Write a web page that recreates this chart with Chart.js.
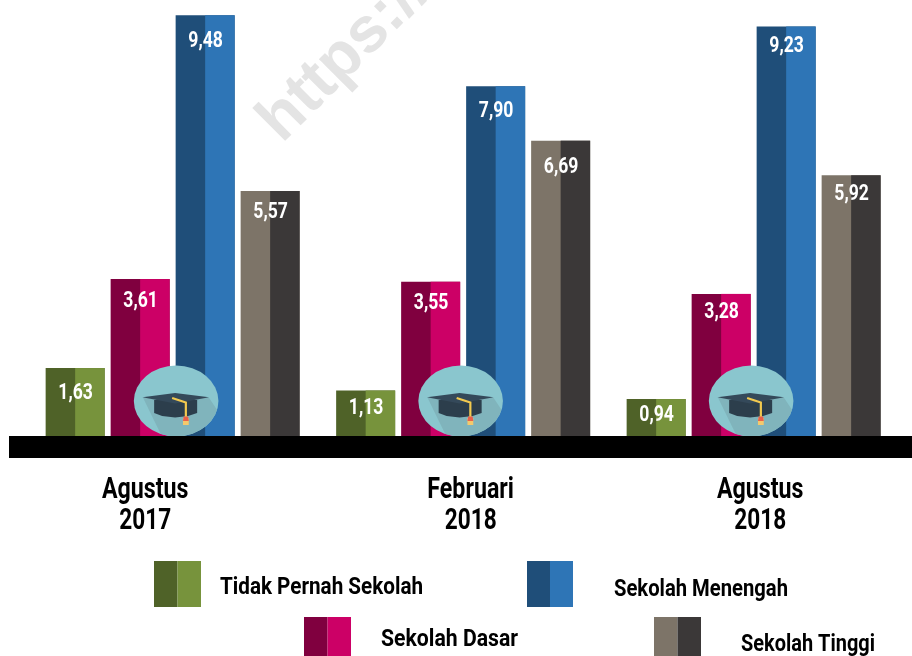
<!DOCTYPE html>
<html><head><meta charset="utf-8">
<style>html,body{margin:0;padding:0;background:#fff}#w{position:relative;width:912px;height:656px}canvas{display:block}</style>
<script src="https://cdn.jsdelivr.net/npm/chart.js@4"></script>
</head><body><div id="w"><canvas id="c" width="912" height="656"></canvas></div>
<script>
const periods = [["Agustus","2017"],["Februari","2018"],["Agustus","2018"]];
const tidakPernah = [1.63,1.13,0.94];
const dasar = [3.61,3.55,3.28];
const menengah = [9.48,7.90,9.23];
const tinggi = [5.57,6.69,5.92];
const seriesNames = ["Tidak Pernah Sekolah","Sekolah Dasar","Sekolah Menengah","Sekolah Tinggi"];

const FONT = 'Roboto,sans-serif';
const leftTone = ["#4f6228","#80003f","#1f4e79","#7d7468"];
const rightTone = ["#77933c","#cc0066","#2e75b6","#3b3838"];
const labelDrop = [[25,18,16],[22,22,19],[26,25,20],[22,27,19]];
const hatShift = [3.5,-2.5,-2.5];
const periodShift = [-27.5,7.5,6.5];
const legendLayout = [
  {sw:[154,561,47,46],tx:220,ty:588,w:203},
  {sw:[304,617,47,39],tx:381,ty:640,w:137},
  {sw:[527,561,46,46],tx:614,ty:590,w:174},
  {sw:[654,617,47,39],tx:741,ty:645,w:134}
];

function squeezed(c,text,x,y,sx){
  c.save();c.translate(x,y);c.scale(sx,1);c.fillText(text,0,0);c.restore();
}
function poly(ctx,pts,color){ctx.fillStyle=color;ctx.beginPath();pts.forEach((p,i)=>i?ctx.lineTo(p[0],p[1]):ctx.moveTo(p[0],p[1]));ctx.closePath();ctx.fill();}
function drawHat(ctx,cx,cy){
  ctx.save();
  ctx.beginPath();ctx.ellipse(cx,cy,42.3,35.5,0,0,Math.PI*2);ctx.closePath();
  ctx.fillStyle="#8ac6ce";ctx.fill();ctx.clip();
  const o=(x,y)=>[cx+x,cy+y];
  poly(ctx,[o(-33,-3),o(33,-3),o(45,15),o(10,40),o(-12,40)],"#80b4bc");
  poly(ctx,[o(-22,-1),o(21,-1),o(21,12),o(12,15),o(-1,16.5),o(-14,15),o(-22,12)],"#2c3e4c");
  poly(ctx,[o(-33.7,-3.7),o(-1,-8),o(33,-3.7),o(-1,2.5)],"#34495a");
  ctx.strokeStyle="#f2c94f";ctx.lineWidth=2.2;ctx.lineCap="butt";
  ctx.beginPath();ctx.moveTo(-4+cx,-3+cy);ctx.lineTo(9.7+cx,1.5+cy);ctx.lineTo(9.7+cx,17+cy);ctx.stroke();
  poly(ctx,[o(6.8,17),o(12.6,17),o(12.6,24),o(6.8,24)],"#f5c96b");
  poly(ctx,[o(7.5,15.5),o(12,15.5),o(12.6,20),o(6.8,20)],"#e8604c");
  ctx.restore();
}
const decor = {
  id:"decor",
  beforeDatasetsDraw(chart){
    const c=chart.ctx;
    c.save();c.translate(282,144);c.rotate(-Math.PI/4);
    c.font='bold 64px "Liberation Sans",sans-serif';c.fillStyle="#e4e4e4";c.textBaseline="alphabetic";c.textAlign="left";
    c.fillText("https://",0,0);c.restore();
  },
  afterDatasetDraw(chart,args){
    const c=chart.ctx,i=args.index;
    chart.getDatasetMeta(i).data.forEach(b=>{
      c.fillStyle=rightTone[i];
      c.fillRect(b.x,b.y,b.width/2,b.base-b.y);
    });
  },
  afterDatasetsDraw(chart){
    const c=chart.ctx,x=chart.scales.x,b=chart.chartArea.bottom;
    c.save();c.fillStyle="#fff";c.textAlign="center";c.textBaseline="middle";c.font="bold 22px "+FONT;
    chart.data.datasets.forEach((d,i)=>{
      chart.getDatasetMeta(i).data.forEach((el,j)=>{
        squeezed(c,d.data[j].toFixed(2).replace(".",","),el.x+0.5,el.y+labelDrop[i][j],0.8);
      });
    });
    c.restore();
    periods.forEach((p,j)=>drawHat(c,x.getPixelForValue(j)+hatShift[j],b-35));
    c.fillStyle="#000";c.fillRect(9,b,903,22);
    c.save();c.fillStyle="#000";c.textAlign="center";c.textBaseline="middle";c.font="bold 29px "+FONT;
    periods.forEach((p,j)=>{
      const px=x.getPixelForValue(j)+periodShift[j];
      squeezed(c,p[0],px,b+55,0.8);squeezed(c,p[1],px,b+86,0.78);
    });
    c.restore();
    c.save();c.textAlign="left";c.textBaseline="middle";c.font="bold 23px "+FONT;
    seriesNames.forEach((n,i)=>{
      const l=legendLayout[i],s=l.sw;
      c.fillStyle=leftTone[i];c.fillRect(s[0],s[1],s[2]/2,s[3]);
      c.fillStyle=rightTone[i];c.fillRect(s[0]+s[2]/2,s[1],s[2]/2,s[3]);
      c.fillStyle="#000";
      squeezed(c,n,l.tx,l.ty,l.w/c.measureText(n).width);
    });
    c.restore();
  }
};
new Chart(document.getElementById("c"),{
  type:"bar",
  data:{labels:periods,datasets:[tidakPernah,dasar,menengah,tinggi].map((v,i)=>({label:seriesNames[i],data:v,backgroundColor:leftTone[i],borderWidth:0}))},
  options:{
    responsive:false,animation:false,
    layout:{padding:{left:27.4,right:13.1,top:0,bottom:220}},
    datasets:{bar:{categoryPercentage:0.895,barPercentage:0.908}},
    plugins:{legend:{display:false},tooltip:{enabled:false},title:{display:false}},
    scales:{
      x:{display:false,grid:{display:false}},
      y:{display:false,min:0.118,max:9.82,grid:{display:false}}
    }
  },
  plugins:[decor]
});
</script></body></html>
